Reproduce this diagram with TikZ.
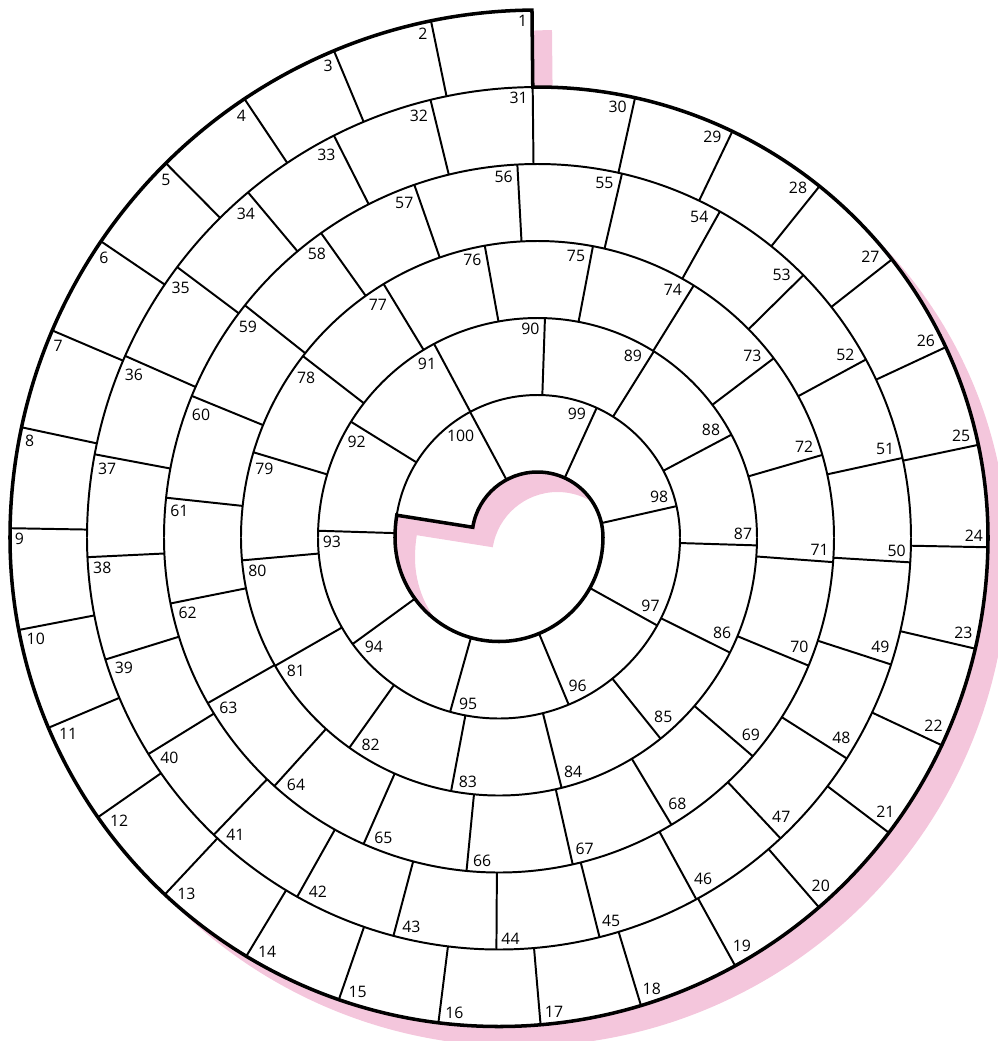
\documentclass[tikz,border=0pt]{standalone}
\usepackage{fontspec}
\setsansfont{Open Sans}
\definecolor{shadowpink}{RGB}{244,198,220}
\newcommand\boardouter{([shift={(90.6:5.275)}]5.375,-5.375) arc[start angle=90.6,end angle=180,radius=5.275] arc[start angle=180,end angle=360,radius=4.89] arc[start angle=0,end angle=90.6,radius=4.505] -- cycle}
\newcommand\boardhole{([shift={(171:1.425)}]5.375,-5.375) arc[start angle=171,end angle=180,radius=1.425] arc[start angle=180,end angle=360,radius=1.04] arc[start angle=0,end angle=171,radius=.655] -- cycle}
\newcommand\seglist{A/5.275/90.6/180,B/4.89/180/360,A/4.505/0/180,B/4.12/180/360,A/3.735/0/180,B/3.35/180/360,A/2.965/0/180,B/2.58/180/360,A/2.195/0/180,B/1.81/180/360,A/1.425/0/171}

\begin{document}
\begin{tikzpicture}[x=1cm,y=1cm,
  thinwall/.style={line width=.56pt},
  thickwall/.style={line width=1pt,line join=miter},
  cellnum/.style={font=\sffamily\fontsize{4.5}{5}\selectfont,inner sep=0pt}]
  \useasboundingbox (0,0) rectangle (9.98,-10.41);
  \coordinate (A) at (5.375,-5.375);
  \coordinate (B) at (4.99,-5.375);
  \fill[shadowpink,even odd rule,shift={(.2,-.2)}] \boardouter \boardhole;
  \fill[white,even odd rule] \boardouter \boardhole;
  \gdef\trackpos{0}
  \foreach \ctr/\R/\aa/\ab in \seglist{
    \pgfmathsetmacro\tmp{\trackpos+(\R-.405)*(\ab-\aa)*pi/180}
    \xdef\trackpos{\tmp}
  }
  \pgfmathsetmacro\cellL{\trackpos/100}
  \gdef\trackpos{0}
  \foreach \ctr/\R/\aa/\ab in \seglist{
    \pgfmathsetmacro\rc{\R-.405}
    \pgfmathsetmacro\sb{\trackpos+\rc*(\ab-\aa)*pi/180}
    \pgfmathtruncatemacro\kmin{ceil(\trackpos/\cellL-.001)}
    \pgfmathtruncatemacro\kmax{min(ceil(\sb/\cellL-.001)-1,99)}
    \begin{scope}[shift={(\ctr)}]
      \draw[thinwall] (\aa:{\R-.77}) arc[start angle=\aa,end angle=\ab,radius=\R-.77];
      \foreach \k in {\kmin,...,\kmax}{
        \pgfmathsetmacro\ang{\aa+(\k*\cellL-\trackpos)/\rc*180/pi}
        \draw[thinwall] (\ang:\R) -- (\ang:{\R-.77});
        \pgfmathtruncatemacro\cellno{\k+1}
        \pgfmathsetmacro\halfw{.045*(1+(\cellno>9)+(\cellno>99))}
        \pgfmathsetmacro\radoff{.05+\halfw*abs(cos(\ang))+.056*abs(sin(\ang))}
        \pgfmathsetmacro\tanoff{.05+\halfw*abs(sin(\ang))+.056*abs(cos(\ang))}
        \pgfmathsetmacro\lx{(\R-\radoff)*cos(\ang)-\tanoff*sin(\ang)}
        \pgfmathsetmacro\ly{(\R-\radoff)*sin(\ang)+\tanoff*cos(\ang)}
        \node[cellnum] (c\cellno) at (\lx,\ly) {\cellno};
      }
    \end{scope}
    \xdef\trackpos{\sb}
  }
  \draw[thickwall] \boardouter;
  \draw[thickwall] \boardhole;
\end{tikzpicture}
\end{document}
